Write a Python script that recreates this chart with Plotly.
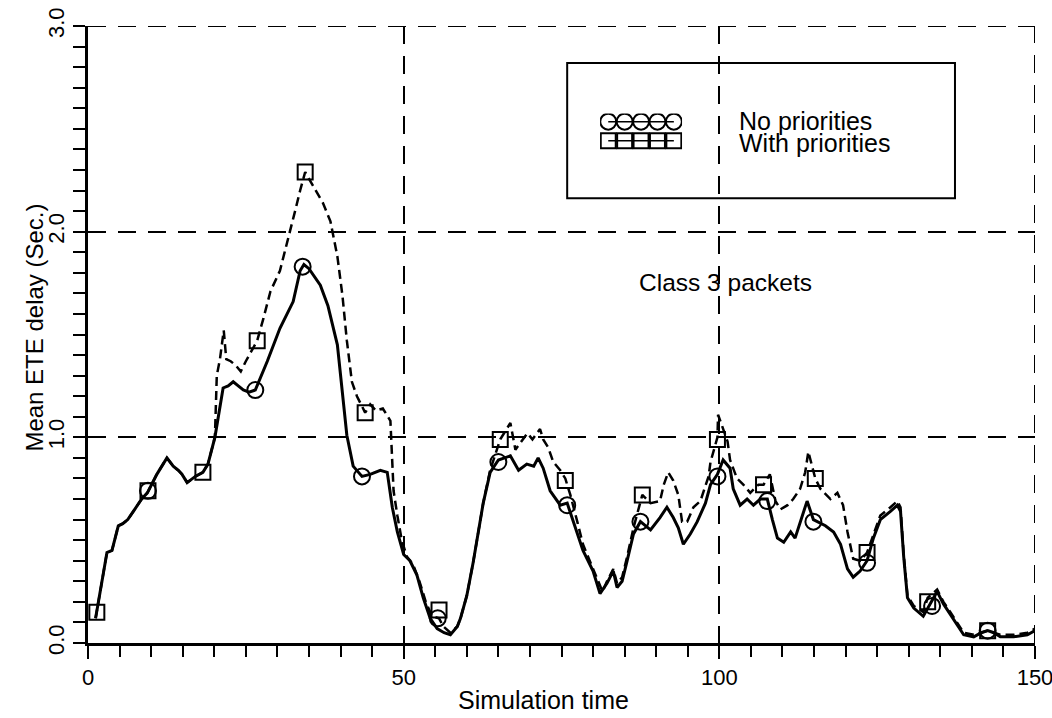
import plotly.graph_objects as go

# ---------------- data ----------------
np_x = [1.2, 2.2, 3.0, 3.8, 4.8, 5.5, 6.3, 7.4, 8.5, 9.4, 10.9, 12.5, 13.5, 14.3, 14.9, 15.7, 17.0, 18.2, 19.0, 20.1,
        21.4, 22.2, 23.0, 23.8, 24.6, 25.5, 26.5, 28.4, 30.4, 32.5, 33.6, 34.2, 35.0, 36.8, 38.0, 39.5, 40.4, 41.0,
        42.0, 43.4, 44.7, 46.3, 47.4, 48.2, 49.0, 50.0, 51.0, 52.1, 53.1, 54.2, 55.3, 56.4, 57.4, 58.5, 59.0, 60.0,
        61.0, 62.6, 63.7, 65.0, 66.9, 68.2, 69.5, 70.6, 71.3, 72.1, 73.2, 74.8, 75.9, 77.2, 78.4, 80.0, 81.1, 82.2,
        83.2, 83.8, 84.6, 85.4, 86.4, 87.5, 89.1, 90.6, 91.7, 92.7, 93.5, 94.3, 95.4, 96.5, 97.8, 98.6, 99.7, 100.6,
        101.7, 102.2, 103.3, 104.4, 105.4, 106.5, 107.6, 108.4, 109.2, 110.2, 111.3, 112.0, 112.8, 113.9, 114.9,
        116.8, 118.1, 119.2, 120.3, 121.2, 122.3, 123.4, 124.4, 125.5, 127.1, 128.2, 128.7, 129.2, 129.8, 130.8,
        132.3, 133.4, 134.5, 135.5, 136.6, 137.7, 138.7, 140.3, 141.5, 142.5, 143.5, 144.5, 146.6, 148.8, 150.0]
np_y = [0.12, 0.30, 0.44, 0.45, 0.57, 0.58, 0.60, 0.65, 0.70, 0.73, 0.82, 0.90, 0.86, 0.84, 0.82, 0.78, 0.81, 0.83, 0.87, 1.00,
        1.24, 1.25, 1.27, 1.25, 1.23, 1.22, 1.23, 1.37, 1.53, 1.66, 1.81, 1.84, 1.82, 1.74, 1.64, 1.45, 1.20, 1.01,
        0.86, 0.81, 0.82, 0.84, 0.83, 0.66, 0.54, 0.43, 0.40, 0.33, 0.22, 0.12, 0.07, 0.05, 0.04, 0.08, 0.12, 0.23,
        0.39, 0.68, 0.83, 0.89, 0.91, 0.84, 0.87, 0.86, 0.90, 0.85, 0.74, 0.67, 0.68, 0.56, 0.45, 0.35, 0.24, 0.29,
        0.35, 0.27, 0.30, 0.40, 0.53, 0.59, 0.55, 0.61, 0.66, 0.61, 0.56, 0.48, 0.53, 0.59, 0.68, 0.77, 0.82, 0.89,
        0.85, 0.75, 0.67, 0.70, 0.67, 0.70, 0.70, 0.60, 0.51, 0.49, 0.54, 0.51, 0.59, 0.69, 0.60,
        0.57, 0.54, 0.48, 0.36, 0.32, 0.35, 0.40, 0.51, 0.60, 0.64, 0.67, 0.64, 0.42, 0.22, 0.17,
        0.13, 0.19, 0.25, 0.19, 0.14, 0.09, 0.04, 0.03, 0.05, 0.06, 0.05, 0.03, 0.03, 0.04, 0.06]

wp_x = [1.2, 2.2, 3.0, 3.8, 4.8, 5.5, 6.3, 7.4, 8.5, 9.4, 10.9, 12.5, 13.5, 14.3, 14.9, 15.7, 17.0, 18.2, 19.0, 20.1,
        20.4, 20.9, 21.5, 21.9, 22.6, 23.4, 24.2, 25.0, 26.8, 27.8, 28.9, 30.4, 31.7, 32.8, 33.6, 34.4, 35.7, 37.2,
        38.4, 39.5, 40.3, 41.0, 41.8, 42.6, 43.9, 44.7, 45.6, 46.7, 47.9, 48.2, 48.4, 49.0, 49.7, 50.5, 51.5, 52.5,
        53.5, 54.5, 55.6, 56.3, 57.4, 58.5, 59.0, 60.0, 61.0, 62.6, 63.7, 65.3, 66.9, 67.7, 68.8, 69.6, 70.4, 71.6,
        72.1, 72.9, 73.7, 74.8, 75.6, 76.4, 77.5, 78.4, 79.6, 80.8, 81.5, 82.2, 83.2, 83.8, 84.6, 85.4, 86.4, 87.8,
        89.1, 90.6, 91.2, 91.9, 92.7, 93.5, 94.1, 94.9, 95.9, 97.0, 98.3, 98.6, 99.7, 99.8, 101.3, 101.7, 102.8,
        103.8, 104.9, 106.2, 107.0, 108.0, 108.9, 109.7, 110.8, 111.7, 112.8, 113.6, 114.1, 115.2, 116.0, 117.6,
        118.7, 119.6, 120.3, 121.2, 122.3, 123.4, 124.4, 125.5, 127.1, 128.2, 128.7, 129.2, 129.8, 130.8, 132.3,
        133.0, 134.5, 135.5, 136.6, 137.7, 138.7, 140.3, 142.5, 144.5, 146.6, 148.8, 150.0]
wp_y = [0.12, 0.30, 0.44, 0.45, 0.57, 0.58, 0.60, 0.65, 0.70, 0.73, 0.82, 0.90, 0.86, 0.84, 0.82, 0.78, 0.81, 0.83, 0.87, 1.00,
        1.30, 1.38, 1.52, 1.38, 1.37, 1.35, 1.32, 1.37, 1.47, 1.58, 1.71, 1.81, 1.96, 2.10, 2.20, 2.29, 2.22, 2.14,
        2.05, 1.88, 1.69, 1.47, 1.27, 1.20, 1.12, 1.16, 1.13, 1.14, 1.08, 0.88, 0.74, 0.62, 0.50, 0.42, 0.38, 0.30,
        0.20, 0.13, 0.12, 0.08, 0.05, 0.08, 0.12, 0.23, 0.39, 0.68, 0.84, 0.99, 1.07, 0.94, 0.99, 1.02, 0.99, 1.04,
        0.99, 0.95, 0.88, 0.84, 0.80, 0.72, 0.59, 0.48, 0.39, 0.30, 0.25, 0.30, 0.36, 0.29, 0.32, 0.42, 0.56, 0.72,
        0.68, 0.69, 0.77, 0.83, 0.79, 0.72, 0.59, 0.59, 0.66, 0.69, 0.81, 0.88, 1.00, 1.11, 0.98, 0.89, 0.80,
        0.77, 0.73, 0.77, 0.77, 0.82, 0.69, 0.65, 0.67, 0.70, 0.75, 0.83, 0.93, 0.80, 0.75, 0.70,
        0.73, 0.67, 0.54, 0.41, 0.40, 0.44, 0.53, 0.62, 0.66, 0.69, 0.66, 0.43, 0.23, 0.18, 0.15,
        0.22, 0.26, 0.20, 0.15, 0.10, 0.05, 0.04, 0.06, 0.04, 0.04, 0.05, 0.07]

np_mark_x = [9.5, 26.5, 34.0, 43.4, 55.4, 65.0, 75.9, 87.5, 99.7, 107.6, 114.9, 123.4, 133.7, 142.5]
np_mark_y = [0.74, 1.23, 1.83, 0.81, 0.12, 0.88, 0.67, 0.59, 0.81, 0.69, 0.59, 0.39, 0.18, 0.06]
wp_mark_x = [1.4, 9.5, 18.2, 26.8, 34.4, 43.9, 55.6, 65.3, 75.6, 87.8, 99.7, 107.0, 115.2, 123.4, 133.0, 142.5]
wp_mark_y = [0.15, 0.74, 0.83, 1.47, 2.29, 1.12, 0.16, 0.99, 0.79, 0.72, 0.99, 0.77, 0.80, 0.44, 0.20, 0.06]

series_names = ["No priorities", "With priorities"]
legend_sample_x = [0, 1, 2, 3, 4]
legend_rows = [3.2, 1.3]

x_range = [0, 150]
y_range = [0, 3]
x_tickvals = [0, 50, 100, 150]
y_tickvals = [0, 1, 2, 3]
y_ticktext = ["0.0", "1.0", "2.0", "3.0"]

FONT = "Liberation Sans, Arial, Helvetica, sans-serif"
INK = "black"
grid_dash = "18px,12px"

fig = go.Figure()

fig.add_trace(go.Scatter(x=wp_x, y=wp_y, mode="lines",
                         line=dict(color=INK, width=2.5, dash="9px,5px"), showlegend=False))
fig.add_trace(go.Scatter(x=np_x, y=np_y, mode="lines",
                         line=dict(color=INK, width=3), showlegend=False))
fig.add_trace(go.Scatter(x=np_mark_x, y=np_mark_y, mode="markers",
                         marker=dict(symbol="circle-open", size=16, color=INK, line=dict(width=2)),
                         showlegend=False))
fig.add_trace(go.Scatter(x=wp_mark_x, y=wp_mark_y, mode="markers",
                         marker=dict(symbol="square-open", size=15, color=INK, line=dict(width=2)),
                         showlegend=False))

# legend samples drawn on a small auxiliary axis pair inside the legend box
fig.add_trace(go.Scatter(x=legend_sample_x, y=[legend_rows[0]] * len(legend_sample_x),
                         mode="lines+markers", xaxis="x2", yaxis="y2",
                         line=dict(color=INK, width=1.5),
                         marker=dict(symbol="circle-open", size=16, color=INK, line=dict(width=2)),
                         showlegend=False))
fig.add_trace(go.Scatter(x=legend_sample_x, y=[legend_rows[1]] * len(legend_sample_x),
                         mode="lines+markers", xaxis="x2", yaxis="y2",
                         line=dict(color=INK, width=1.5),
                         marker=dict(symbol="square-open", size=15, color=INK, line=dict(width=2)),
                         showlegend=False))

fig.update_layout(
    width=1052, height=718,
    margin=dict(l=88, r=17, t=26, b=75, pad=0, autoexpand=False),
    paper_bgcolor="white", plot_bgcolor="white",
    font=dict(family=FONT, size=22, color=INK),
    showlegend=False,
    xaxis=dict(range=x_range, tickvals=x_tickvals, ticks="outside", ticklen=13, tickwidth=2,
               tickcolor=INK, showline=True, linecolor=INK, linewidth=2.5, zeroline=False,
               showgrid=True, gridcolor=INK, gridwidth=2, griddash=grid_dash,
               ticklabeloverflow="allow", automargin=False,
               minor=dict(dtick=5, ticks="outside", ticklen=11, tickwidth=2, tickcolor=INK, showgrid=False),
               tickfont=dict(size=22)),
    yaxis=dict(range=y_range, tickvals=y_tickvals, ticktext=y_ticktext, tickangle=-90,
               ticks="outside", ticklen=12, tickwidth=2, tickcolor=INK,
               showline=True, linecolor=INK, linewidth=2.5, zeroline=False,
               showgrid=True, gridcolor=INK, gridwidth=2, griddash=grid_dash,
               ticklabeloverflow="allow", automargin=False,
               minor=dict(dtick=0.1, ticks="outside", ticklen=12, tickwidth=2, tickcolor=INK, showgrid=False),
               tickfont=dict(size=22)),
    xaxis2=dict(domain=[0.5407, 0.6273], range=[-0.5, 4.5], anchor="y2", visible=False),
    yaxis2=dict(domain=[0.793, 0.858], range=[0, 4], anchor="x2", visible=False),
)

# dashed frame lines at the top (y = 3.0) and right (x = 150) of the plot area
fig.add_shape(type="line", xref="x", yref="y", x0=x_range[0], x1=x_range[1], y0=y_range[1], y1=y_range[1],
              line=dict(color=INK, width=2, dash=grid_dash))
fig.add_shape(type="line", xref="x", yref="y", x0=x_range[1], x1=x_range[1], y0=y_range[0], y1=y_range[1],
              line=dict(color=INK, width=2, dash=grid_dash))

# axis titles
fig.add_annotation(x=0.4805, y=-0.0924, xref="paper", yref="paper", text="Simulation time",
                   showarrow=False, xanchor="center", yanchor="middle", font=dict(size=25))
fig.add_annotation(x=-0.0565, y=0.512, xref="paper", yref="paper", text="Mean ETE delay (Sec.)",
                   textangle=-90, showarrow=False, xanchor="center", yanchor="middle", font=dict(size=24))

# legend frame and labels
fig.add_shape(type="rect", xref="paper", yref="paper", x0=0.506, x1=0.9155, y0=0.721, y1=0.940,
              line=dict(color=INK, width=2), fillcolor="rgba(0,0,0,0)")
fig.add_annotation(x=0.685, y=0.846, xref="paper", yref="paper", text=series_names[0],
                   showarrow=False, xanchor="left", yanchor="middle", font=dict(size=25))
fig.add_annotation(x=0.685, y=0.810, xref="paper", yref="paper", text=series_names[1],
                   showarrow=False, xanchor="left", yanchor="middle", font=dict(size=25))
fig.add_annotation(x=101, y=1.755, text="Class 3 packets", showarrow=False,
                   xanchor="center", yanchor="middle", font=dict(size=24.5))

fig.write_html("out.html")
